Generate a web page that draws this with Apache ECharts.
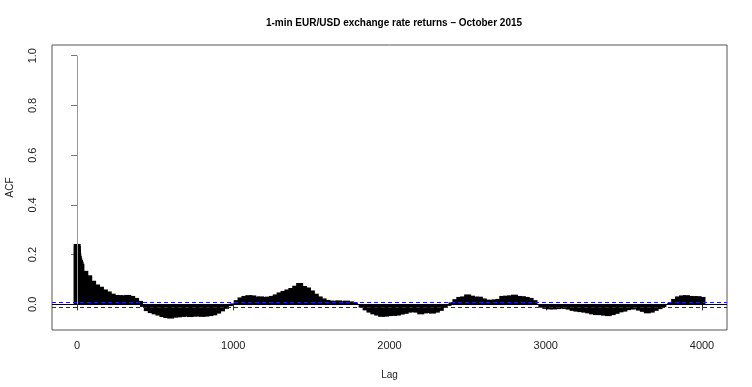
<!DOCTYPE html>
<html><head><meta charset="utf-8">
<script src="https://cdn.jsdelivr.net/npm/echarts@6/dist/echarts.min.js"></script>
<style>html,body{margin:0;padding:0;background:#fff}#c{width:752px;height:387px}</style>
</head><body><div id="c"></div>
<script>
// ACF by lag
const lags = [1,2,3,5,8,12,16,20,
25,50,75,100,125,150,175,200,225,250,275,300,325,350,375,400,425,450,475,500,
525,550,575,600,625,650,675,700,725,750,775,800,825,850,875,900,925,950,975,1000,
1025,1050,1075,1100,1125,1150,1175,1200,1225,1250,1275,1300,1325,1350,1375,1400,1425,1450,1475,1500,
1525,1550,1575,1600,1625,1650,1675,1700,1725,1750,1775,1800,1825,1850,1875,1900,1925,1950,1975,2000,
2025,2050,2075,2100,2125,2150,2175,2200,2225,2250,2275,2300,2325,2350,2375,2400,2425,2450,2475,2500,
2525,2550,2575,2600,2625,2650,2675,2700,2725,2750,2775,2800,2825,2850,2875,2900,2925,2950,2975,3000,
3025,3050,3075,3100,3125,3150,3175,3200,3225,3250,3275,3300,3325,3350,3375,3400,3425,3450,3475,3500,
3525,3550,3575,3600,3625,3650,3675,3700,3725,3750,3775,3800,3825,3850,3875,3900,3925,3950,3975,4000];
const acfValues = [0.243,0.235,0.22,0.205,0.195,0.185,0.178,0.172,
0.163,0.135,0.117,0.095,0.080,0.071,0.060,0.052,0.043,0.038,0.037,0.036,0.038,0.034,0.026,0.014,-0.010,-0.027,-0.035,-0.040,
-0.045,-0.051,-0.055,-0.057,-0.053,-0.052,-0.050,-0.049,-0.051,-0.049,-0.048,-0.050,-0.049,-0.047,-0.044,-0.037,-0.028,-0.018,-0.007,0.004,
0.017,0.028,0.034,0.037,0.036,0.031,0.032,0.030,0.031,0.034,0.040,0.048,0.054,0.060,0.066,0.075,0.086,0.074,0.068,0.056,
0.043,0.032,0.024,0.018,0.015,0.014,0.016,0.013,0.015,0.012,0.008,-0.002,-0.013,-0.024,-0.033,-0.040,-0.045,-0.050,-0.049,-0.047,
-0.046,-0.045,-0.041,-0.038,-0.033,-0.031,-0.033,-0.040,-0.036,-0.035,-0.037,-0.033,-0.026,-0.014,-0.006,0.008,0.021,0.030,0.032,0.040,
0.035,0.031,0.031,0.024,0.019,0.018,0.020,0.022,0.034,0.035,0.036,0.039,0.034,0.033,0.030,0.026,0.017,0.001,-0.013,-0.018,
-0.020,-0.020,-0.019,-0.017,-0.018,-0.021,-0.026,-0.029,-0.031,-0.033,-0.036,-0.040,-0.043,-0.043,-0.045,-0.047,-0.043,-0.038,-0.032,-0.029,
-0.023,-0.020,-0.020,-0.025,-0.030,-0.036,-0.033,-0.026,-0.019,-0.011,-0.002,0.006,0.022,0.032,0.036,0.037,0.034,0.033,0.033,0.030];
const lag0Value = 1.0;
const ciBound = 0.011;
const xTicks = [0,1000,2000,3000,4000];
const yTicks = [0,0.2,0.4,0.6,0.8,1.0];

const chart = echarts.init(document.getElementById('c'), null, {renderer:'canvas'});
const font = 'Liberation Sans, Arial, sans-serif';
chart.setOption({
  animation:false,
  backgroundColor:'#fff',
  title:{text:'1-min EUR/USD exchange rate returns \u2013 October 2015', left:389, top:13, textAlign:'center',
    textStyle:{fontFamily:font, fontSize:10, fontWeight:'bold', color:'#000'}},
  grid:{left:52, right:25, top:45, bottom:57, containLabel:false, outerBoundsMode:'none',
    show:true, borderColor:'#555', borderWidth:1, backgroundColor:'transparent'},
  xAxis:{type:'value', min:-160, max:4160, name:'Lag', nameLocation:'middle', nameGap:40,
    nameTextStyle:{fontFamily:font, fontSize:10, color:'#222'},
    axisLine:{show:false}, splitLine:{show:false},
    axisTick:{show:true, length:6, lineStyle:{color:'#333'}, customValues:xTicks},
    axisLabel:{fontFamily:font, fontSize:11, color:'#222', margin:10, customValues:xTicks, formatter:v=>String(v)}},
  yAxis:{type:'value', min:-0.103, max:1.043, name:'ACF', nameLocation:'middle', nameGap:37,
    nameTextStyle:{fontFamily:font, fontSize:10, color:'#222'},
    axisLine:{show:false}, splitLine:{show:false},
    axisTick:{show:true, length:6, lineStyle:{color:'#777'}, customValues:yTicks},
    axisLabel:{fontFamily:font, fontSize:11, color:'#222', rotate:90, margin:14, customValues:yTicks, formatter:v=>v.toFixed(1)}},
  series:[{
    type:'bar', barWidth:7, barMinWidth:7, itemStyle:{color:'#000'}, silent:true,
    data:lags.map((l,i)=>[l, acfValues[i]]),
    markLine:{silent:true, symbol:'none', label:{show:false},
      data:[
        {yAxis:0, lineStyle:{color:'#000', width:1, type:'solid'}},
        {yAxis:ciBound, lineStyle:{color:'#1a1adb', width:1, type:[4,3]}},
        {yAxis:-ciBound, lineStyle:{color:'#1a1adb', width:1, type:[4,3]}},
        [{coord:[0,0], lineStyle:{color:'#999', width:1, type:'solid'}},{coord:[0,lag0Value]}]
      ]}
  }]
});
</script></body></html>
